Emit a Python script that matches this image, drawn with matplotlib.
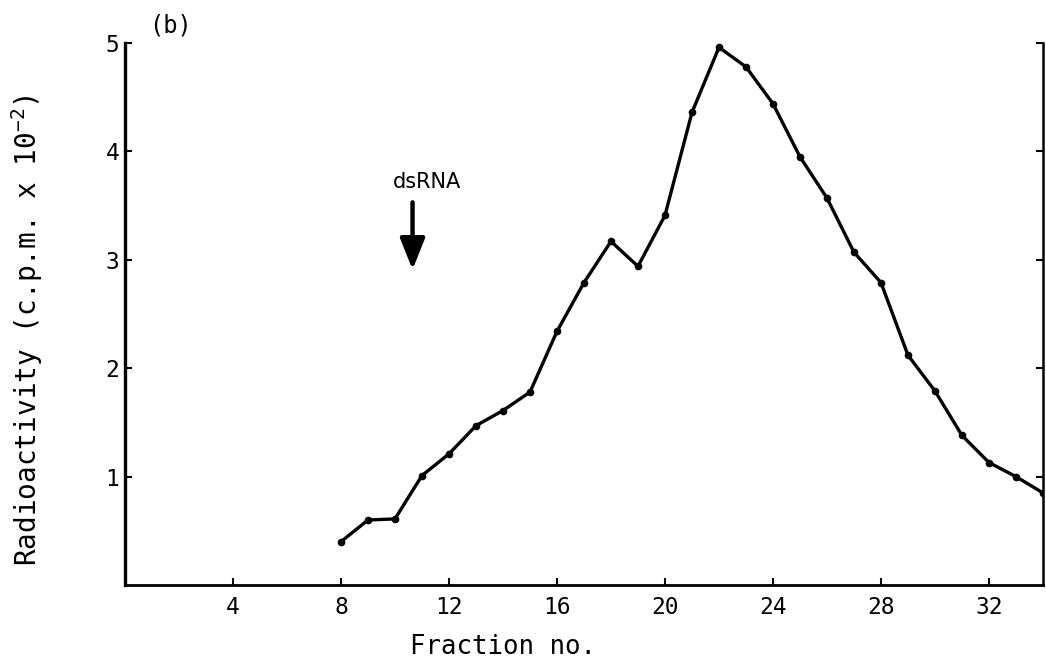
#!/usr/bin/env python3
"""Radioactivity profile across gradient fractions, panel (b)."""

import matplotlib
matplotlib.use('Agg')
import matplotlib.pyplot as plt

fractions = list(range(8, 35))
activity = [0.40, 0.60, 0.61, 1.01, 1.21, 1.47, 1.61, 1.78, 2.34, 2.79,
            3.17, 2.94, 3.41, 4.36, 4.96, 4.78, 4.44, 3.95, 3.57, 3.07,
            2.79, 2.12, 1.79, 1.38, 1.13, 1.00, 0.85]

x_ticks = [4, 8, 12, 16, 20, 24, 28, 32]
y_ticks = [1, 2, 3, 4, 5]

# dsRNA marker position (fraction, arrow tail, arrow tip)
dsrna_x = 10.65
dsrna_tail = 3.53
dsrna_tip = 2.91


def main():
    plt.rcParams['font.family'] = ['DejaVu Sans Mono']
    plt.rcParams['mathtext.default'] = 'regular'

    fig = plt.figure(figsize=(10.46, 6.63), dpi=100)
    ax = fig.add_axes([0.1195, 0.1176, 0.8776, 0.8175])

    ax.plot(fractions, activity, color='black', lw=2.4, marker='o',
            markersize=4.5, solid_joinstyle='round')

    ax.set_xlim(0, 34)
    ax.set_ylim(0, 5)
    ax.set_xticks(x_ticks)
    ax.set_yticks(y_ticks)
    ax.tick_params(axis='both', direction='in', length=5, width=1.5,
                   labelsize=16.5, pad=8)
    ax.tick_params(axis='y', right=True, pad=4)

    ax.spines['top'].set_visible(False)
    ax.spines['left'].set_linewidth(2.4)
    ax.spines['bottom'].set_linewidth(2.0)
    ax.spines['right'].set_linewidth(1.8)

    ax.set_xlabel('Fraction no.', fontsize=18.5)
    ax.xaxis.set_label_coords(0.412, -0.09)
    ax.set_ylabel(r'Radioactivity (c.p.m. x 10$^{-2}$)', fontsize=20)
    ax.yaxis.set_label_coords(-0.087, 0.47)

    ax.annotate('', xy=(dsrna_x, dsrna_tip), xytext=(dsrna_x, dsrna_tail),
                arrowprops=dict(arrowstyle='-|>,head_width=0.38,head_length=0.95',
                                lw=3.2, color='black', shrinkA=0, shrinkB=0,
                                mutation_scale=20))
    ax.text(11.2, 3.72, 'dsRNA', ha='center', va='center', fontsize=15,
            family='DejaVu Sans')

    fig.text(170 / 1046, 1 - 26 / 663, '(b)', ha='center', va='center',
             fontsize=17)

    fig.savefig('out.png', dpi=100)
    plt.close(fig)


if __name__ == '__main__':
    main()
